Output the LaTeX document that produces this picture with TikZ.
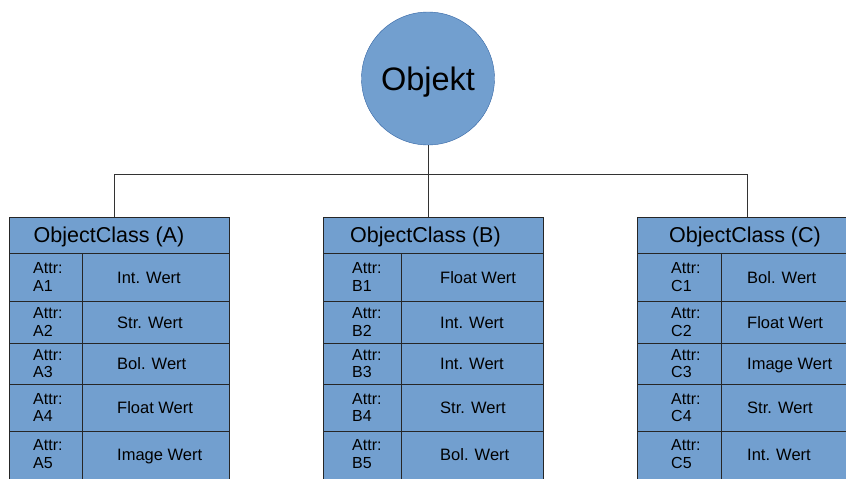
\documentclass[tikz,border=0pt]{standalone}
\usepackage{fontspec}
\setmainfont{Liberation Sans}
\definecolor{cellblue}{RGB}{114,159,207}
\definecolor{rimblue}{RGB}{52,101,164}
\definecolor{linegray}{RGB}{51,51,51}

\begin{document}
\begin{tikzpicture}[x=1pt,y=-1pt,
    wire/.style={draw=linegray, line width=0.9pt},
    tablecell/.style={draw=black!85, fill=cellblue, line width=1pt},
    headbox/.style={tablecell, rectangle, minimum width=220pt, minimum height=36pt, inner sep=0pt, anchor=north west},
    headtext/.style={font=\fontsize{21.5}{24}\selectfont, inner sep=0pt, anchor=base},
    attrtext/.style={font=\fontsize{16}{17.5}\selectfont, align=left, anchor=west, inner sep=0pt},
    valtext/.style={font=\fontsize{16.5}{19}\selectfont, anchor=base west, inner sep=0pt}]
    \clip (0,0) rectangle (846,479);
    \node[circle, draw=rimblue, fill=cellblue, minimum size=133pt, inner sep=0pt,
          text height=23pt, text depth=0pt, font=\fontsize{32.5}{38}\selectfont] (obj) at (428,78.5) {Objekt};
    \foreach \t/\xl/\xd/\xa/\xv/\xh/\vals in {
        A/9/82/33/117/109/{Int.,Str.,Bol.,Float,Image},
        B/323/401/352/440/425.5/{Float,Int.,Int.,Str.,Bol.},
        C/637/721/671/747/745/{Bol.,Float,Image,Str.,Int.}}{
        \node[headbox] (h\t) at (\xl,217) {};
        \node[headtext] (t\t) at (\xh,242) {ObjectClass (\t)};
        \foreach \ya/\yb [count=\i] in {253/301,301/343,343/384,384/431,431/490}{
            \draw[tablecell] (\xl,\ya) rectangle (\xd,\yb);
            \draw[tablecell] (\xd,\ya) rectangle (\xl+220,\yb);
        }
        \foreach \v [count=\i] in \vals{
            \pgfmathsetmacro\yc{{277,322,363.5,407.5,454}[\i-1]}
            \node[attrtext] (a\t\i) at (\xa,\yc) {Attr:\\\t\i};
            \node[valtext] (v\t\i) at (\xv,\yc+6) {\v{} Wert};
        }
    }
    % Verbindungen
    \draw[wire] (obj.south) -- (obj.south |- hB.north);
    \draw[wire] ([xshift=-5pt]hA.north) -- ++(0,-43) -| (hC.north);
\end{tikzpicture}
\end{document}
